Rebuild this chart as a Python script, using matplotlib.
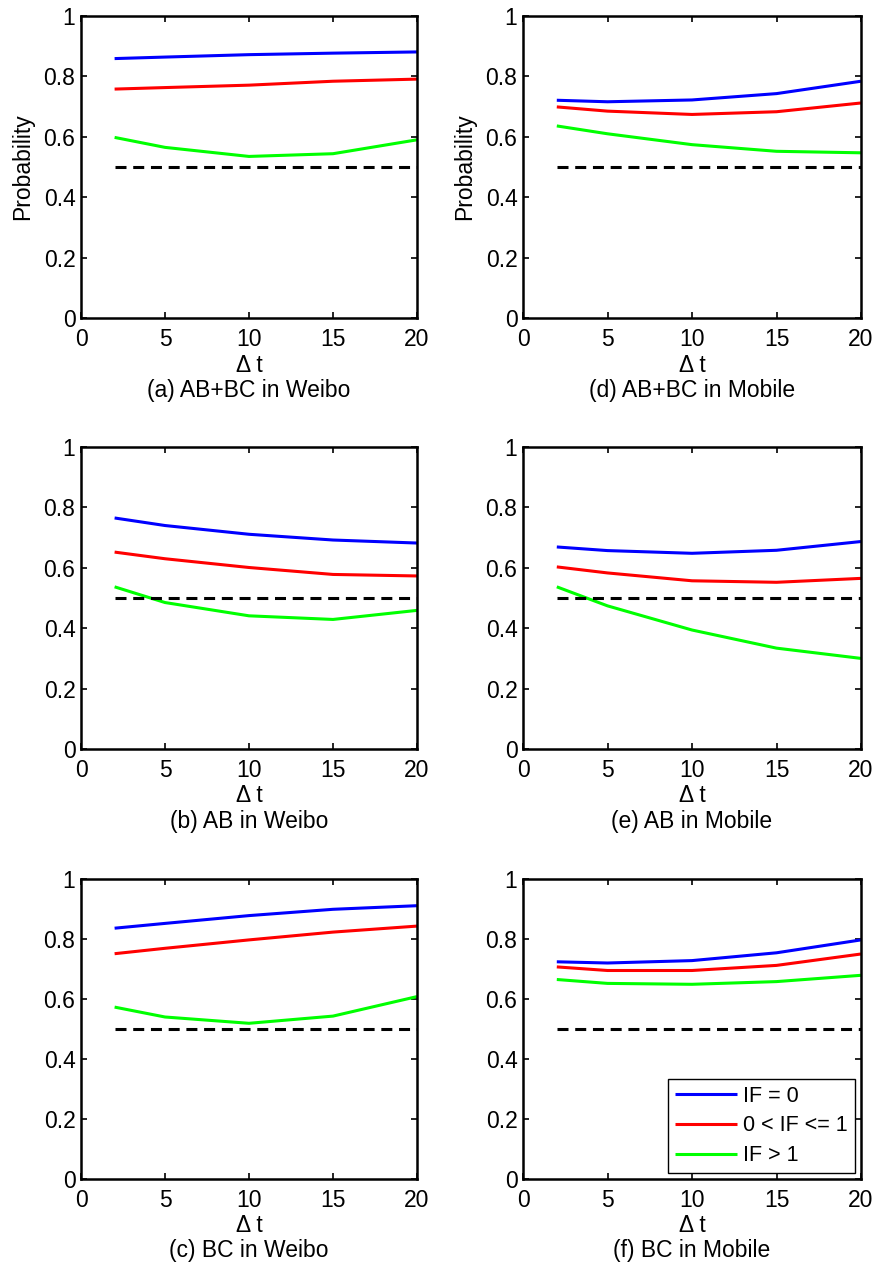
import matplotlib
matplotlib.use('Agg')
import matplotlib.pyplot as plt
from matplotlib.ticker import FormatStrFormatter

plt.rcParams['font.family'] = ['Liberation Sans', 'DejaVu Sans']

# data
dt = [2, 5, 10, 15, 20]
labels = ['IF = 0', '0 < IF <= 1', 'IF > 1']
colors = ['#0000ff', '#ff0000', '#00ff00']

a_if0 = [0.859, 0.864, 0.872, 0.877, 0.881]
a_if01 = [0.758, 0.763, 0.771, 0.784, 0.791]
a_if1 = [0.598, 0.565, 0.535, 0.544, 0.590]

b_if0 = [0.765, 0.740, 0.711, 0.692, 0.682]
b_if01 = [0.652, 0.630, 0.601, 0.578, 0.573]
b_if1 = [0.537, 0.485, 0.441, 0.429, 0.459]

c_if0 = [0.836, 0.852, 0.878, 0.899, 0.911]
c_if01 = [0.751, 0.769, 0.797, 0.823, 0.843]
c_if1 = [0.573, 0.540, 0.519, 0.543, 0.608]

d_if0 = [0.721, 0.716, 0.722, 0.743, 0.784]
d_if01 = [0.699, 0.685, 0.674, 0.683, 0.712]
d_if1 = [0.636, 0.610, 0.574, 0.552, 0.547]

e_if0 = [0.669, 0.657, 0.648, 0.658, 0.687]
e_if01 = [0.603, 0.583, 0.557, 0.552, 0.565]
e_if1 = [0.537, 0.474, 0.394, 0.334, 0.300]

f_if0 = [0.724, 0.720, 0.728, 0.754, 0.797]
f_if01 = [0.707, 0.695, 0.695, 0.712, 0.750]
f_if1 = [0.665, 0.652, 0.649, 0.658, 0.679]

baseline = 0.5

W, H = 877, 1268
fig = plt.figure(figsize=(W / 100, H / 100), dpi=100)

# (x0, top, width, height) in pixels
panels = [
    ((81, 16, 336, 302), (a_if0, a_if01, a_if1), '(a) AB+BC in Weibo', True),
    ((81, 447, 336, 302), (b_if0, b_if01, b_if1), '(b) AB in Weibo', False),
    ((81, 879, 336, 300), (c_if0, c_if01, c_if1), '(c) BC in Weibo', False),
    ((523, 16, 338, 302), (d_if0, d_if01, d_if1), '(d) AB+BC in Mobile', True),
    ((523, 447, 338, 302), (e_if0, e_if01, e_if1), '(e) AB in Mobile', False),
    ((523, 879, 338, 300), (f_if0, f_if01, f_if1), '(f) BC in Mobile', False),
]

fs = 16.5
for (x0, top, w, h), series, caption, ylab in panels:
    ax = fig.add_axes([x0 / W, 1 - (top + h) / H, w / W, h / H])
    for ys, c, lab in zip(series, colors, labels):
        ax.plot(dt, ys, color=c, lw=2.2, label=lab, solid_capstyle='butt')
    ax.plot([dt[0], dt[-1]], [baseline, baseline], color='black', lw=2.2,
            dashes=(3.6, 2.2))
    ax.set_xlim(0, 20)
    ax.set_ylim(0, 1)
    ax.set_xticks([0, 5, 10, 15, 20])
    ax.set_yticks([0, 0.2, 0.4, 0.6, 0.8, 1])
    ax.yaxis.set_major_formatter(FormatStrFormatter('%g'))
    ax.tick_params(direction='in', top=True, right=True, length=4, width=1.2,
                   labelsize=fs)
    ax.tick_params(axis='x', pad=7)
    ax.tick_params(axis='y', pad=4)
    for sp in ax.spines.values():
        sp.set_linewidth(1.8)
    ax.set_xlabel('Δ t', fontsize=fs, labelpad=2)
    if ylab:
        ax.set_ylabel('Probability', fontsize=fs, labelpad=7)
    ax.text(0.5, -0.24, caption, transform=ax.transAxes, ha='center',
            va='center', fontsize=fs)
    if caption.startswith('(f)'):
        leg = ax.legend(loc='lower right', fontsize=15.5, frameon=True,
                        fancybox=False, edgecolor='black', framealpha=1,
                        handlelength=2.9, handletextpad=0.3, borderpad=0.3,
                        labelspacing=0.4, borderaxespad=0.3)
        leg.get_frame().set_linewidth(1.0)

fig.savefig('out.png', dpi=100)
